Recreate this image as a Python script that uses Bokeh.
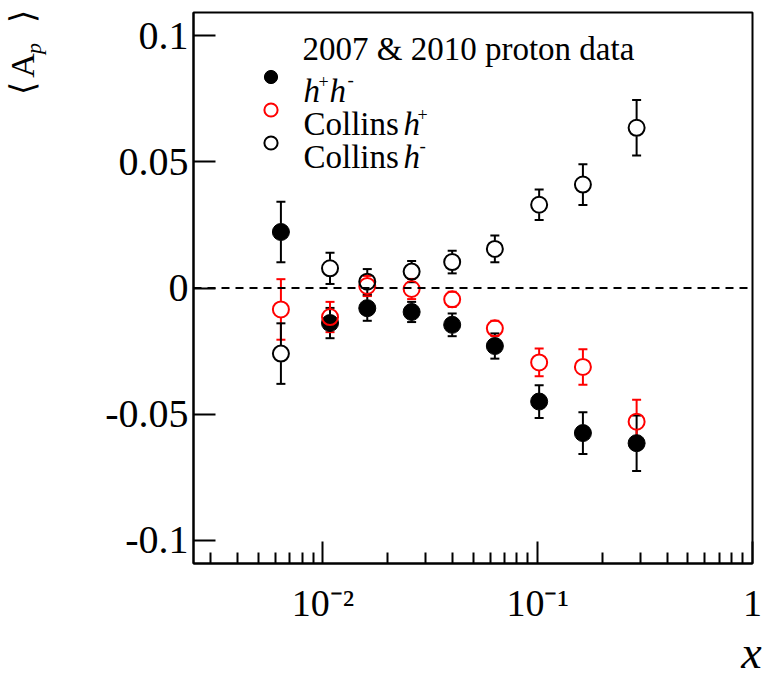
import math
from bokeh.plotting import figure
from bokeh.models import (Range1d, FixedTicker, CustomJSTickFormatter, Whisker, TeeHead,
                          ColumnDataSource, Span, Label, Legend, LegendItem,
                          LinearAxis, LogAxis)
from bokeh.embed import file_html
from bokeh.resources import INLINE

# ---------------- data ----------------
x_bins = [0.00638, 0.0108, 0.0161, 0.0259, 0.0400, 0.0632, 0.1016, 0.1624, 0.2888]

hh_val = [0.0222, -0.0139, -0.0080, -0.0095, -0.0146, -0.0230, -0.0450, -0.0575, -0.0615]
hh_err = [0.0120, 0.0060, 0.0050, 0.0040, 0.0045, 0.0050, 0.0065, 0.0083, 0.0110]

cp_val = [-0.0085, -0.0115, 0.0008, -0.0004, -0.0045, -0.0160, -0.0295, -0.0313, -0.0530]
cp_err = [0.0120, 0.0060, 0.0040, 0.0040, 0.0030, 0.0030, 0.0055, 0.0070, 0.0087]

cm_val = [-0.0260, 0.0078, 0.0025, 0.0065, 0.0103, 0.0155, 0.0330, 0.0410, 0.0635]
cm_err = [0.0120, 0.0062, 0.0050, 0.0042, 0.0045, 0.0053, 0.0060, 0.0081, 0.0110]

y_ticks = [-0.1, -0.05, 0.0, 0.05, 0.1]
x_major = [0.01, 0.1, 1.0]
x_major_labels = ["10\u207b\u00b2", "10\u207b\u00b9", "1"]
x_minor = [m * d for d in (0.001, 0.01, 0.1) for m in range(2, 10)]

legend_title = "2007 & 2010 proton data"

# ---------------- figure ----------------
W, H = 763, 681
L, R, T, B = 193, 11, 12, 118
X_MIN, X_MAX = 0.0025, 1.0
Y_MAX = 0.1092

p = figure(width=W, height=H, output_backend="svg", toolbar_location=None,
           x_axis_type="log", x_range=Range1d(X_MIN, X_MAX), y_range=Range1d(-Y_MAX, Y_MAX),
           min_border_left=L, min_border_right=R, min_border_top=T, min_border_bottom=B)
p.background_fill_color = "white"
p.border_fill_color = "white"
p.grid.visible = False
p.outline_line_color = "black"
p.outline_line_width = 2

frame_w = W - L - R
frame_h = H - T - B
px_per_unit = frame_h / (2 * Y_MAX)
px_per_dec = frame_w / math.log10(X_MAX / X_MIN)
gap = 8.5 / px_per_unit  # marker radius in data units (error bar stops at marker edge)


def y_at(py):   # canvas pixel row -> data y (for placing axis-title glyphs)
    return (T + frame_h / 2 - py) / px_per_unit


def x_at(px):   # canvas pixel column -> data x
    return 10 ** (math.log10(X_MIN) + (px - L) / px_per_dec)


FONT = "Liberation Serif"


def pick_formatter(vals, labs, log=False):
    return CustomJSTickFormatter(args=dict(vals=vals, labs=labs, lg=log), code="""
        let best = -1, bd = 1e9;
        for (let i = 0; i < vals.length; i++) {
            const d = lg ? Math.abs(Math.log10(tick) - Math.log10(vals[i])) : Math.abs(tick - vals[i]);
            if (d < bd) { bd = d; best = i; }
        }
        return bd < 1e-6 ? labs[best] : '';
    """)


def hide_lines(ax):
    ax.axis_line_color = None
    ax.major_tick_line_color = None
    ax.minor_tick_line_color = None
    ax.major_tick_in = 0
    ax.major_tick_out = 0
    ax.minor_tick_in = 0
    ax.minor_tick_out = 0


# main x axis
xa = p.xaxis[0]
xa.ticker = FixedTicker(ticks=x_major, minor_ticks=x_minor)
xa.formatter = pick_formatter(x_major, x_major_labels, log=True)
xa.major_tick_in = 22
xa.major_tick_out = 0
xa.minor_tick_in = 11
xa.minor_tick_out = 0
xa.axis_line_width = 2
xa.major_tick_line_width = 2
xa.minor_tick_line_width = 2
xa.major_label_text_font = FONT
xa.major_label_text_font_size = "38px"
xa.major_label_text_color = "black"
xa.major_label_standoff = 18

# x-axis title "x" (bottom right), drawn as a tick label of a bare axis
xt_pos = [x_at(751)]
xt = LogAxis(ticker=FixedTicker(ticks=xt_pos, minor_ticks=[]),
             formatter=pick_formatter(xt_pos, ["x"], log=True))
hide_lines(xt)
xt.major_label_text_font = FONT
xt.major_label_text_font_style = "italic"
xt.major_label_text_font_size = "46px"
xt.major_label_text_color = "black"
xt.major_label_standoff = 0
p.add_layout(xt, "below")

# main y axis
ya = p.yaxis[0]
ya.ticker = FixedTicker(ticks=y_ticks, minor_ticks=[])
ya.formatter = CustomJSTickFormatter(code="return tick == 0 ? '0' : String(Math.round(tick*100)/100)")
ya.major_tick_in = 22
ya.major_tick_out = 0
ya.minor_tick_in = 0
ya.minor_tick_out = 0
ya.axis_line_width = 2
ya.major_tick_line_width = 2
ya.major_label_text_font = FONT
ya.major_label_text_font_size = "40px"
ya.major_label_text_color = "black"
ya.major_label_standoff = 5

# y-axis title <A_p> (top left), drawn as rotated tick labels of bare axes
yt_pos = [y_at(88), y_at(65), y_at(16)]
yt = LinearAxis(ticker=FixedTicker(ticks=yt_pos, minor_ticks=[]),
                formatter=pick_formatter(yt_pos, ["\u27e8", "A", "\u27e9"]))
hide_lines(yt)
yt.major_label_orientation = "vertical"
yt.major_label_text_font = FONT
yt.major_label_text_font_size = "34px"
yt.major_label_text_color = "black"
yt.major_label_standoff = 62
p.add_layout(yt, "left")

ys_pos = [y_at(48)]
ys = LinearAxis(ticker=FixedTicker(ticks=ys_pos, minor_ticks=[]),
                formatter=pick_formatter(ys_pos, ["p"]))
hide_lines(ys)
ys.major_label_orientation = "vertical"
ys.major_label_text_font = FONT
ys.major_label_text_font_style = "italic"
ys.major_label_text_font_size = "22px"
ys.major_label_text_color = "black"
ys.major_label_standoff = -45
p.add_layout(ys, "left")

# zero line
p.add_layout(Span(location=0, dimension="width", line_color="black",
                  line_width=2, line_dash="8 6"))


def add_series(vals, errs, color, filled):
    lo_gap = [min(gap, e) for e in errs]
    src_up = ColumnDataSource(dict(base=x_bins,
                                   lower=[v + g for v, g in zip(vals, lo_gap)],
                                   upper=[v + e for v, e in zip(vals, errs)]))
    src_dn = ColumnDataSource(dict(base=x_bins,
                                   lower=[v - e for v, e in zip(vals, errs)],
                                   upper=[v - g for v, g in zip(vals, lo_gap)]))
    p.add_layout(Whisker(source=src_up, base="base", lower="lower", upper="upper",
                         line_color=color, line_width=2, lower_head=None,
                         upper_head=TeeHead(size=9, line_color=color, line_width=2)))
    p.add_layout(Whisker(source=src_dn, base="base", lower="lower", upper="upper",
                         line_color=color, line_width=2, upper_head=None,
                         lower_head=TeeHead(size=9, line_color=color, line_width=2)))
    src = ColumnDataSource(dict(x=x_bins, y=vals))
    if filled:
        r = p.scatter("x", "y", source=src, marker="circle", size=17,
                      fill_color=color, line_color=color, line_width=1)
    else:
        r = p.scatter("x", "y", source=src, marker="circle", size=16,
                      fill_color=None, line_color=color, line_width=2)
    return r


r_hh = add_series(hh_val, hh_err, "black", True)
r_cp = add_series(cp_val, cp_err, "#ff0000", False)
r_cm = add_series(cm_val, cm_err, "black", False)


# ---------------- legend ----------------
def fx(cx):
    return cx - L


def fy(cy):   # canvas row -> screen units measured up from the frame bottom
    return frame_h - (cy - T)


row = 33
first_center = 76
mk_x = 270
leg = Legend(items=[LegendItem(label="", renderers=[r_hh]),
                    LegendItem(label="", renderers=[r_cp]),
                    LegendItem(label="", renderers=[r_cm])],
             location=(fx(mk_x - row / 2), fy(first_center - row / 2 + 3 * row)),
             orientation="vertical", glyph_width=row, glyph_height=row,
             label_height=row, label_width=0, label_standoff=0, spacing=0,
             padding=0, margin=0, border_line_color=None, background_fill_alpha=0)
p.add_layout(leg)


def lab(cx, cy, text, size, style="normal"):
    p.add_layout(Label(x=fx(cx), y=fy(cy), x_units="screen", y_units="screen",
                       text=text, text_font=FONT, text_font_size=f"{size}px",
                       text_font_style=style, text_align="left",
                       text_baseline="alphabetic", text_color="black"))


lab(302, 48, legend_title, 33)
tx = 303
b1, b2, b3 = first_center + 14, first_center + row + 14, first_center + 2 * row + 14
# row 1: h+h-
lab(tx, b1, "h", 33, "italic")
lab(tx + 15, b1 - 9, "+", 18)
lab(tx + 26, b1, "h", 33, "italic")
lab(tx + 44, b1 - 11, "-", 19)
# row 2: Collins h+
lab(tx, b2, "Collins", 33)
lab(tx + 100, b2, "h", 33, "italic")
lab(tx + 114, b2 - 9, "+", 18)
# row 3: Collins h-
lab(tx, b3, "Collins", 33)
lab(tx + 100, b3, "h", 33, "italic")
lab(tx + 116, b3 - 11, "-", 19)

open("out.html", "w").write(file_html(p, INLINE))
